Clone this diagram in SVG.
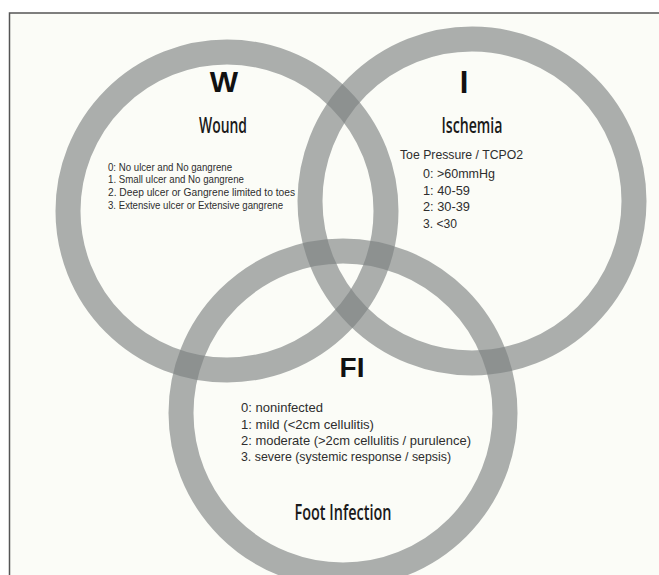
<svg xmlns="http://www.w3.org/2000/svg" width="659" height="575" viewBox="0 0 659 575">
<style>
.ring{fill:none;stroke:#7b8080;stroke-opacity:0.63;stroke-width:25}
.big{font-family:"Liberation Sans",Arial,sans-serif;font-weight:bold;fill:#111;text-anchor:middle}
.title{font-family:"Open Sans","Liberation Sans",sans-serif;font-weight:600;font-size:22px;fill:#1a1a1a;text-anchor:middle}
.list{font-family:"Liberation Sans",Arial,sans-serif;fill:#2e2e2e}
</style>
<rect x="0" y="0" width="659" height="575" fill="#ffffff"/>
<rect x="9.5" y="13" width="700" height="620" fill="#fbfcf7" stroke="#555" stroke-width="1.5"/>
<g id="node-W">
<circle class="ring" cx="227" cy="211" r="159"/>
<text class="big" x="224" y="92" font-size="30">W</text>
<text class="title" x="223" y="133" textLength="48" lengthAdjust="spacingAndGlyphs">Wound</text>
<g class="list" font-size="10.5">
<text x="108" y="170.5" textLength="124" lengthAdjust="spacingAndGlyphs">0: No ulcer and No gangrene</text>
<text x="108" y="183" textLength="136" lengthAdjust="spacingAndGlyphs">1. Small ulcer and No gangrene</text>
<text x="108" y="196" textLength="187" lengthAdjust="spacingAndGlyphs">2. Deep ulcer or Gangrene limited to toes</text>
<text x="108" y="208.5" textLength="175" lengthAdjust="spacingAndGlyphs">3. Extensive ulcer or Extensive gangrene</text>
</g>
</g>
<g id="node-I">
<circle class="ring" cx="472" cy="201" r="162"/>
<text class="big" x="464" y="93" font-size="31">I</text>
<text class="title" x="472" y="133" textLength="61" lengthAdjust="spacingAndGlyphs">Ischemia</text>
<g class="list" font-size="13.5">
<text x="400" y="159" textLength="123" lengthAdjust="spacingAndGlyphs">Toe Pressure / TCPO2</text>
<text x="423" y="178" textLength="72" lengthAdjust="spacingAndGlyphs">0: &gt;60mmHg</text>
<text x="423" y="194.5" textLength="47" lengthAdjust="spacingAndGlyphs">1: 40-59</text>
<text x="423" y="211" textLength="47" lengthAdjust="spacingAndGlyphs">2: 30-39</text>
<text x="423" y="228" textLength="34" lengthAdjust="spacingAndGlyphs">3. &lt;30</text>
</g>
</g>
<g id="node-FI">
<circle class="ring" cx="343" cy="413" r="162"/>
<text class="big" x="352" y="377" font-size="28">FI</text>
<g class="list" font-size="13">
<text x="241" y="412" textLength="82" lengthAdjust="spacingAndGlyphs">0: noninfected</text>
<text x="241" y="428.5" textLength="133" lengthAdjust="spacingAndGlyphs">1: mild (&lt;2cm cellulitis)</text>
<text x="241" y="445" textLength="230" lengthAdjust="spacingAndGlyphs">2: moderate (&gt;2cm cellulitis / purulence)</text>
<text x="241" y="461" textLength="210" lengthAdjust="spacingAndGlyphs">3. severe (systemic response / sepsis)</text>
</g>
<text class="title" x="343" y="520" textLength="97" lengthAdjust="spacingAndGlyphs">Foot Infection</text>
</g>
</svg>
